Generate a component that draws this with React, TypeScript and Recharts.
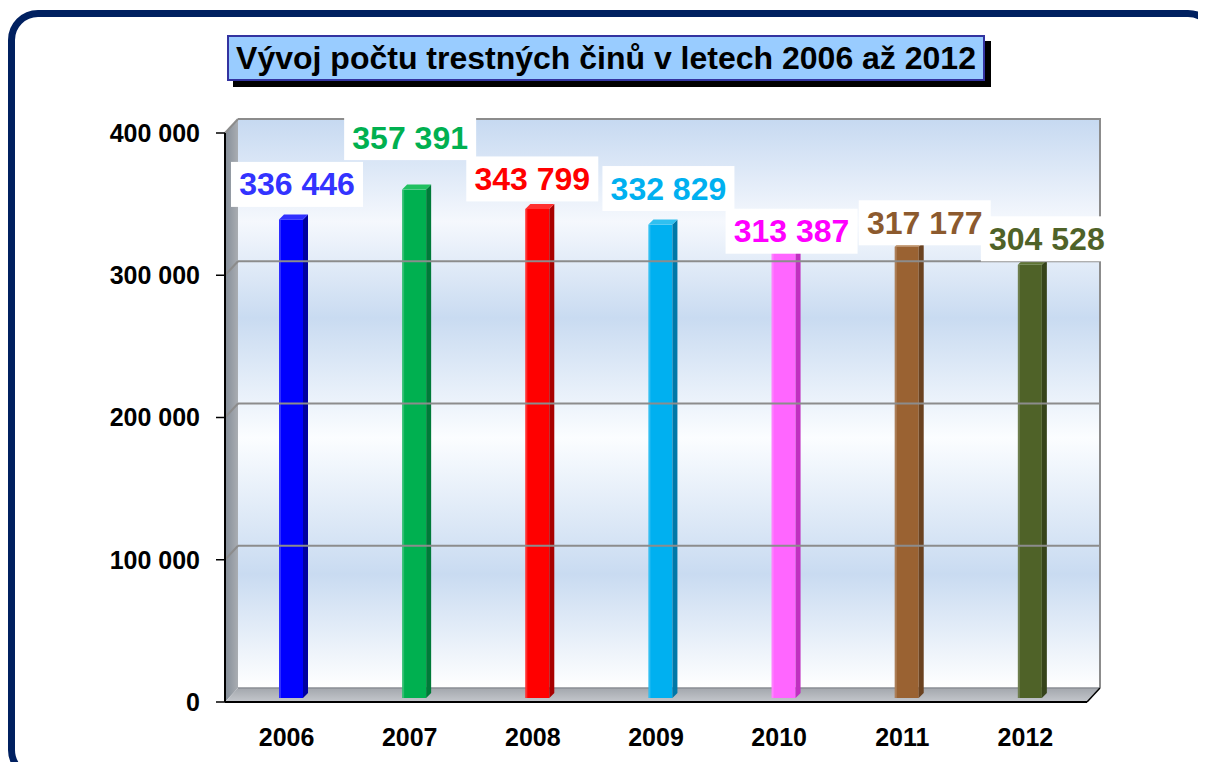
import React from 'react';
import { BarChart, Bar, XAxis, YAxis, ReferenceLine, LabelList, Cell } from 'recharts';

// data
const years = ['2006', '2007', '2008', '2009', '2010', '2011', '2012'];
const crimes = [336446, 357391, 343799, 332829, 313387, 317177, 304528];
const yTicks = [0, 100000, 200000, 300000, 400000];
const slotTicks = [0, 1, 2, 3, 4, 5, 6, 7];

// look
const barColors = ['#0000ff', '#00b050', '#ff0000', '#00b0f0', '#ff66ff', '#9a6232', '#4f6228'];
const sideColors = ['#0000a0', '#007a38', '#a80000', '#0078a8', '#c030c0', '#6a4220', '#36441a'];
const topColors = ['#3030ff', '#20c060', '#ff3030', '#30c0f0', '#ff88ff', '#b07a48', '#5f7434'];
const labelColors = ['#3333ff', '#00b050', '#ff0000', '#00b0f0', '#ff00ff', '#8c5a2e', '#4f6228'];
// hand-placed label nudges (like the dragged labels of the original)
const labelDx = [6, -4, -5, 8, 8, 18, 17];
const labelDy = [-39, -56, -34, -40, -25, -28, -30];

const W = 1206;
const H = 762;
const FRONT_L = 225;
const FRONT_R = 1087;
const FRONT_T = 133;
const FRONT_B = 702;
const DEPTH_X = 13;
const DEPTH_Y = 14;
const FONT = '"Liberation Sans", Arial, sans-serif';

const data = years.map((year, i) => ({ year, value: crimes[i] }));

const fmt = (v: number) => v.toLocaleString('en-US').replace(/,/g, ' ');

const Bar3D = (props: any) => {
  const { x, y, width, height, index } = props;
  if (height == null || width == null) return null;
  const sx = 4;
  const sy = -4;
  const d = 5;
  const l = x + sx;
  const t = y + sy;
  const r = l + width;
  const b = t + height;
  return (
    <g>
      <rect x={l} y={t} width={width} height={height} fill={barColors[index]} />
      <rect x={l} y={t} width={2} height={height} fill="#ffffff" opacity={0.18} />
      <polygon points={`${r},${t} ${r + d},${t - d} ${r + d},${b - d} ${r},${b}`} fill={sideColors[index]} />
      <polygon points={`${l},${t} ${l + d},${t - d} ${r + d},${t - d} ${r},${t}`} fill={topColors[index]} />
    </g>
  );
};

const ValueLabel = (props: any) => {
  const { x, y, width, index, value } = props;
  const cx = x + width / 2 + 4 + labelDx[index];
  const cy = y + labelDy[index];
  const bw = 132;
  const bh = 45;
  return (
    <g>
      <rect x={cx - bw / 2} y={cy - bh / 2} width={bw} height={bh} fill="#ffffff" />
      <text
        x={cx}
        y={cy}
        textAnchor="middle"
        dominantBaseline="central"
        fontFamily={FONT}
        fontWeight="bold"
        fontSize={32}
        fill={labelColors[index]}
      >
        {fmt(value)}
      </text>
    </g>
  );
};

// grid line pushed back onto the rear wall, with the slanted piece across the side wall
const WallGridLine = (props: any) => {
  const { x1, y1, x2 } = props;
  if (x1 == null || y1 == null) return null;
  return (
    <g>
      <line x1={x1 + DEPTH_X} y1={y1 - DEPTH_Y} x2={x2 + DEPTH_X} y2={y1 - DEPTH_Y} stroke="#8c8c8c" strokeWidth={2} />
      <line x1={x1} y1={y1} x2={x1 + DEPTH_X} y2={y1 - DEPTH_Y} stroke="#8c8c8c" strokeWidth={2} />
    </g>
  );
};

function Walls() {
  const bl = FRONT_L + DEPTH_X;
  const br = FRONT_R + DEPTH_X;
  const bt = FRONT_T - DEPTH_Y;
  const bb = FRONT_B - DEPTH_Y;
  return (
    <svg width={W} height={H} style={{ position: 'absolute', left: 0, top: 0 }}>
      <defs>
        <linearGradient id="wall" gradientUnits="userSpaceOnUse" x1="0" y1={bt} x2="0" y2={bb}>
          <stop offset="0" stopColor="#c6d9f1" />
          <stop offset="0.18" stopColor="#f5f8fd" />
          <stop offset="0.35" stopColor="#c9dbf1" />
          <stop offset="0.56" stopColor="#fbfdff" />
          <stop offset="0.8" stopColor="#c9dbf1" />
          <stop offset="1" stopColor="#ffffff" />
        </linearGradient>
        <linearGradient id="side" x1="0" y1="0" x2="1" y2="0">
          <stop offset="0" stopColor="#848d98" />
          <stop offset="1" stopColor="#a9adb2" />
        </linearGradient>
        <linearGradient id="floor" x1="0" y1="0" x2="0" y2="1">
          <stop offset="0" stopColor="#a3a7ad" />
          <stop offset="1" stopColor="#c4c7cc" />
        </linearGradient>
      </defs>
      <rect x={bl} y={bt} width={br - bl} height={bb - bt} fill="url(#wall)" />
      <polyline points={`${bl},${bt} ${br},${bt} ${br},${bb}`} fill="none" stroke="#8c8c8c" strokeWidth={2} />
      <polygon points={`${FRONT_L},${FRONT_T} ${bl},${bt} ${bl},${bb} ${FRONT_L},${FRONT_B}`} fill="url(#side)" />
      <line x1={FRONT_L} y1={FRONT_T} x2={bl} y2={bt} stroke="#8c8c8c" strokeWidth={2} />
      <polygon points={`${FRONT_L},${FRONT_B} ${bl},${bb} ${br},${bb} ${FRONT_R},${FRONT_B}`} fill="url(#floor)" />
      <line x1={bl} y1={bb} x2={br} y2={bb} stroke="#8a8e94" strokeWidth={1.5} />
      <line x1={FRONT_R} y1={FRONT_B} x2={br} y2={bb} stroke="#000000" strokeWidth={1.5} />
    </svg>
  );
}

export default function App() {
  return (
    <div
      style={{
        position: 'relative',
        width: W,
        height: H,
        margin: '-8px 0 0 -8px',
        overflow: 'hidden',
        background: '#ffffff',
        fontFamily: FONT,
      }}
    >
      {/* navy frame */}
      <div
        style={{
          position: 'absolute',
          left: 8,
          top: 10,
          width: 1210,
          height: 770,
          border: '7px solid #002060',
          borderRadius: 30,
          boxSizing: 'border-box',
        }}
      />

      <Walls />

      <div style={{ position: 'absolute', left: 0, top: 0 }}>
        <BarChart
          width={W}
          height={H}
          data={data}
          margin={{ top: FRONT_T, right: W - FRONT_R, left: FRONT_L - 100, bottom: H - FRONT_B - 46 }}
          barSize={24}
        >
          <XAxis
            xAxisId="slot"
            type="number"
            domain={[0, 7]}
            ticks={slotTicks}
            tick={false}
            axisLine={false}
            tickLine={{ stroke: '#000000', strokeWidth: 1.5 }}
            tickSize={7}
            height={0}
          />
          <XAxis
            xAxisId="cat"
            dataKey="year"
            tickLine={false}
            axisLine={{ stroke: '#000000', strokeWidth: 2 }}
            tick={{ fill: '#000000', fontSize: 25, fontWeight: 'bold', fontFamily: FONT }}
            tickMargin={20}
            height={46}
          />
          <YAxis
            domain={[0, 400000]}
            ticks={yTicks}
            tickFormatter={fmt}
            width={100}
            axisLine={{ stroke: '#000000', strokeWidth: 2 }}
            tickLine={{ stroke: '#000000', strokeWidth: 1.5 }}
            tickSize={9}
            tickMargin={16}
            tick={{ fill: '#000000', fontSize: 25, fontWeight: 'bold', fontFamily: FONT }}
          />
          {yTicks.slice(1, -1).map((t) => (
            <ReferenceLine key={t} y={t} xAxisId="cat" shape={WallGridLine} />
          ))}
          <Bar dataKey="value" xAxisId="cat" shape={Bar3D} isAnimationActive={false}>
            {data.map((d, i) => (
              <Cell key={d.year} fill={barColors[i]} />
            ))}
            <LabelList dataKey="value" content={ValueLabel} />
          </Bar>
        </BarChart>
      </div>

      {/* title box */}
      <div
        style={{
          position: 'absolute',
          left: 233,
          top: 41,
          width: 758,
          height: 46,
          background: '#000000',
        }}
      />
      <div
        style={{
          position: 'absolute',
          left: 227,
          top: 35,
          width: 758,
          height: 46,
          boxSizing: 'border-box',
          background: '#99ccff',
          border: '2px solid #3333a0',
          display: 'flex',
          alignItems: 'center',
          justifyContent: 'center',
          fontSize: 32,
          fontWeight: 'bold',
          color: '#000000',
          whiteSpace: 'nowrap',
        }}
      >
        Vývoj počtu trestných činů v letech 2006 až 2012
      </div>
    </div>
  );
}
